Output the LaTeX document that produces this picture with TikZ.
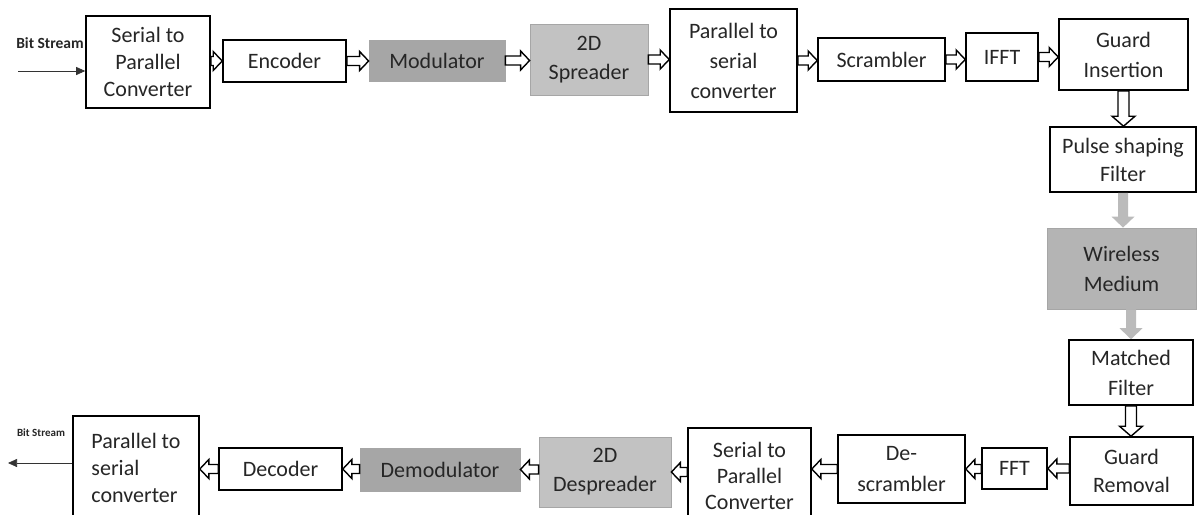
\documentclass[tikz,border=0pt]{standalone}
\usepackage{fontspec}
\setmainfont{Carlito}
\usetikzlibrary{calc,arrows.meta}
\definecolor{gdark}{HTML}{A6A6A6}
\definecolor{glight}{HTML}{C2C2C2}
\definecolor{gmid}{HTML}{B4B4B4}
\definecolor{garrow}{HTML}{BBBBBB}
\definecolor{txt}{HTML}{262626}
\begin{document}
\begin{tikzpicture}[x=1pt,y=-1pt,
 box/.style={draw=black, line width=1.6pt, fill=white, align=center, inner sep=0pt, text=txt, font=\fontsize{22}{27}\selectfont},
 lsp/.style={font=\fontsize{22}{#1}\selectfont},
 sz/.style 2 args={minimum width=#1pt, minimum height=#2pt},
 gbox/.style={box, draw=black!35, line width=0.8pt, fill=#1},
 blockarr/.style n args={3}{to path={let \p1=(\tikztostart), \p2=(\tikztotarget),
   \n1={atan2(\y2-\y1,\x2-\x1)}, \n2={veclen(\x2-\x1,\y2-\y1)} in
   [shift={(\p1)}, rotate=\n1] (0pt,-#1pt) -- ({\n2*1pt-#3pt},-#1pt) -- ({\n2*1pt-#3pt},-#2pt)
   -- ({\n2*1pt},0pt) -- ({\n2*1pt-#3pt},#2pt) -- ({\n2*1pt-#3pt},#1pt) -- (0pt,#1pt) -- cycle}},
 harr/.style={draw=black, fill=white, line width=1.4pt, blockarr={4.5}{9.5}{9}},
 varr/.style={draw=black, fill=white, line width=1.4pt, blockarr={5.5}{11.5}{10}},
 garr/.style={draw=none, fill=garrow, blockarr={5}{11.5}{11}},
 thinarr/.style={draw=black!80, line width=0.7pt, -{Triangle[length=9pt,width=8pt]}},
 bslabel/.style={inner sep=0pt, text=txt, font=\fontsize{#1}{#1}\selectfont\bfseries},
]
\clip (0,0) rectangle (1198,514);
\fill[white] (0,0) rectangle (1198,514);

% top row
\node[box, sz={124}{92}, lsp=27] (sp1) at (148,62) {Serial to\\Parallel\\Converter};
\node[box, sz={123}{42}] (enc) at (284.5,61) {Encoder};
\node[gbox=gdark, sz={136}{41}] (mod) at (437,60.5) {Modulator};
\node[gbox=glight, sz={118}{71}, lsp=29] (spr) at (589,59.5) {2D\\Spreader};
\node[box, sz={127}{103}, lsp=30] (ps1) at (733.5,60.5) {Parallel to\\serial\\converter};
\node[box, sz={127}{43}] (scr) at (881.5,59.5) {Scrambler};
\node[box, sz={72}{48}] (ifft) at (1002,57) {IFFT};
\node[box, sz={129}{71}, lsp=30] (gi) at (1123.5,54.5) {Guard\\Insertion};

% right column
\node[box, sz={146}{65}, lsp=28] (psf) at (1123,159.5) {Pulse shaping\\Filter};
\node[gbox=gmid, sz={149}{81}, lsp=30] (wm) at (1121.5,268.5) {Wireless\\Medium};
\node[box, sz={124}{65}, lsp=30] (mf) at (1131,372.5) {Matched\\Filter};
\node[box, sz={123}{68}, lsp=28] (gr) at (1131.5,471) {Guard\\Removal};

% bottom row
\node[box, sz={65}{41}] (fft) at (1014.5,468.5) {FFT};
\node[box, sz={127}{68}, lsp=31] (dsc) at (901.5,469) {De-\\scrambler};
\node[box, sz={123}{96}, lsp=26] (sp2) at (749.5,476) {Serial to\\Parallel\\Converter};
\node[gbox=glight, sz={132}{70}, lsp=29] (dsp) at (605,472) {2D\\Despreader};
\node[gbox=gdark, sz={160}{43}] (dem) at (440,469.5) {Demodulator};
\node[box, sz={123}{42}] (dec) at (280.5,469) {Decoder};
\node[box, sz={126}{104}, lsp=27, align=left] (ps2) at (136,468) {Parallel to\\serial\\converter};

% bit stream in/out
\node[bslabel=15.5] (bs1) at (50,43) {Bit Stream};
\coordinate (in1) at (18,71);
\draw[thinarr] (in1) -- (in1 -| sp1.west);
\node[bslabel=11] (bs2) at (41,433) {Bit Stream};
\coordinate (out2) at (8,463);
\draw[thinarr] (out2 -| ps2.west) -- (out2);

% top row arrows
\draw[harr] (enc.west -| sp1.east) to (enc.west);
\draw[harr] (enc.east) to (enc.east -| mod.west);
\draw[harr] (mod.east) to (mod.east -| spr.west);
\draw[harr] (spr.east) to (spr.east -| ps1.west);
\draw[harr] (ps1.east) to (ps1.east -| scr.west);
\draw[harr] (scr.east) to (scr.east -| ifft.west);
\draw[harr] (ifft.east) to (ifft.east -| gi.west);

% right column arrows
\draw[varr] (gi.south) to (gi.south |- psf.north);
\draw[garr] (psf.south) to (psf.south |- wm.north);
\draw[garr] (mf.north |- wm.south) to (mf.north);
\draw[varr] (mf.south) to (mf.south |- gr.north);

% bottom row arrows
\draw[harr] (fft.east -| gr.west) to (fft.east);
\draw[harr] (dsc.east -| fft.west) to (dsc.east);
\draw[harr] (dsc.west) to (dsc.west -| sp2.east);
\draw[harr] (dsp.east -| sp2.west) to (dsp.east);
\draw[harr] (dem.east -| dsp.west) to (dem.east);
\draw[harr] (dec.east -| dem.west) to (dec.east);
\draw[harr] (dec.west) to (dec.west -| ps2.east);
\end{tikzpicture}
\end{document}
